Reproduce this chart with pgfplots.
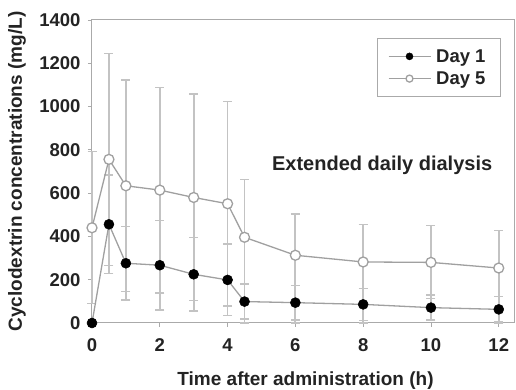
\documentclass[border=0pt]{standalone}
\usepackage{pgfplots}
\pgfplotsset{compat=1.18}
\usepackage{pgfplotstable}
\usepackage{fontspec}
\setmainfont{Liberation Sans}
\definecolor{txt}{RGB}{35,35,35}
\definecolor{lin}{RGB}{160,160,160}
\definecolor{errc}{RGB}{195,195,195}
\definecolor{axc}{RGB}{170,170,170}

\pgfplotstableread{
x y ep em
0 0 0 0
0.5 456 228 228
1 276 169 169
2 267 207 207
3 225 169 169
4 199 165 165
4.5 99 81 81
6 94 79 79
8 86 74 74
10 71 58 58
12 63 59 59
}\dayone

\pgfplotstableread{
x y ep em
0 440 352 349
0.5 756 490 490
1 634 489 489
2 614 475 475
3 580 477 477
4 551 472 472
4.5 396 268 396
6 313 191 313
8 282 174 282
10 280 170 166
12 254 173 254
}\dayfive

\begin{document}
\begin{tikzpicture}
\begin{axis}[
  at={(0,0)}, anchor=south west,
  scale only axis, width=422pt, height=303pt,
  xmin=0, xmax=12.45, ymin=0, ymax=1400,
  xtick={0,2,...,12}, ytick={0,200,...,1400},
  tick pos=left, tick align=outside, major tick length=4pt,
  tick style={axc, line width=0.8pt},
  axis line style={axc, line width=1pt},
  /pgf/number format/assume math mode=true,
  /pgf/number format/1000 sep={},
  ticklabel style={font=\fontsize{18.5}{20}\selectfont\bfseries, text=txt},
  xticklabel style={yshift=-8pt},
  yticklabel style={xshift=-4pt},
  clip=false,
  xlabel={Time after administration (h)},
  ylabel={Cyclodextrin concentrations (mg/L)},
  every axis x label/.style={at={(axis description cs:0.506,-0.191)}, anchor=center, font=\fontsize{19}{22}\selectfont\bfseries, text=txt},
  every axis y label/.style={at={(axis description cs:-0.1777,0.5)}, anchor=center, rotate=90, font=\fontsize{19}{22}\selectfont\bfseries, text=txt},
  legend style={at={(rel axis cs:0.969,0.941)}, anchor=north east, draw=axc, line width=0.8pt, fill=white,
    font=\fontsize{18.5}{20}\selectfont\bfseries, text=txt, inner xsep=10pt, inner ysep=9pt, row sep=4pt,
    nodes={inner xsep=5pt}},
  legend cell align=left,
  legend image code/.code={\draw[mark repeat=2, mark phase=2, mark size=3.5pt] plot coordinates {(0pt,0pt) (21pt,0pt) (42pt,0pt)};},
]
\addplot[errc, only marks, mark=none, forget plot,
  error bars/.cd, y dir=both, y explicit, error mark=|,
  error bar style={line width=1.8pt},
  error mark options={line width=1.5pt, mark size=4.5pt}]
  table[x=x, y=y, y error plus=ep, y error minus=em]{\dayfive};
\addplot[errc, only marks, mark=none, forget plot,
  error bars/.cd, y dir=both, y explicit, error mark=|,
  error bar style={line width=1.8pt},
  error mark options={line width=1.5pt, mark size=4.5pt}]
  table[x=x, y=y, y error plus=ep, y error minus=em]{\dayone};
\addplot[lin, line width=1.3pt, mark=*, mark size=5pt, mark options={fill=black, draw=black, line width=0.5pt}]
  table[x=x, y=y]{\dayone};
\addlegendentry{Day 1}
\addplot[lin, line width=1.3pt, mark=*, mark size=5pt, mark options={fill=white, draw=lin, line width=1.3pt}]
  table[x=x, y=y]{\dayfive};
\addlegendentry{Day 5}
\node[font=\fontsize{20}{22}\selectfont\bfseries, text=txt] at (axis cs:8.56,730) {Extended daily dialysis};
\end{axis}
\pgfresetboundingbox
\path (-92pt,-67pt) rectangle (424pt,323pt);
\end{tikzpicture}
\end{document}
